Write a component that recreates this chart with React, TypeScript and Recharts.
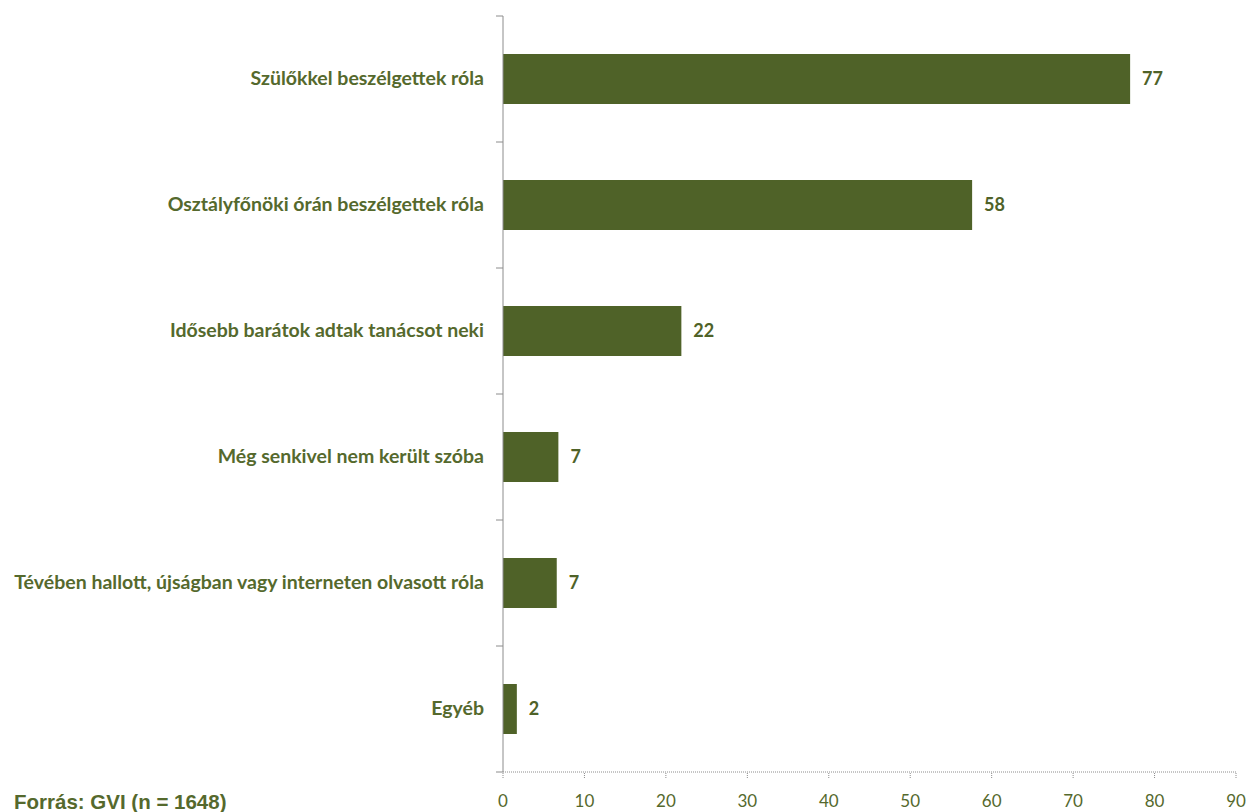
import React from 'react';
import { BarChart, Bar, XAxis, YAxis, LabelList } from 'recharts';

const categories = [
  'Szülőkkel beszélgettek róla',
  'Osztályfőnöki órán beszélgettek róla',
  'Idősebb barátok adtak tanácsot neki',
  'Még senkivel nem került szóba',
  'Tévében hallott, újságban vagy interneten olvasott róla',
  'Egyéb',
];
const values = [77.0, 57.6, 21.9, 6.8, 6.6, 1.7];
const labels = [77, 58, 22, 7, 7, 2];
const xTicks = [0, 10, 20, 30, 40, 50, 60, 70, 80, 90];
const sourceText = 'Forrás: GVI (n = 1648)';

const data = categories.map((c, i) => ({ name: c, value: values[i], label: labels[i] }));

const W = 1250;
const H = 812;
const M = { top: 16, right: 14, left: 0, bottom: 0 };
const X_AXIS_H = 40;
const Y_AXIS_W = 503;
const TICK_SIZE = 7;
const TICK_MARGIN = 12;
const GREEN = '#4f6228';
const TEXT_GREEN = '#55692d';
const AXIS_GRAY = '#8c8c8c';
const band = (H - M.top - M.bottom - X_AXIS_H) / categories.length;

const YTick = (props: any) => {
  const { x, y, payload, index } = props;
  const ax = x + TICK_MARGIN;
  return (
    <g>
      <line x1={ax} x2={ax + TICK_SIZE} y1={y - band / 2} y2={y - band / 2} stroke={AXIS_GRAY} strokeWidth={1} />
      {index === categories.length - 1 && (
        <line x1={ax} x2={ax + TICK_SIZE} y1={y + band / 2} y2={y + band / 2} stroke={AXIS_GRAY} strokeWidth={1} />
      )}
      <text x={x} y={y} dy={6} textAnchor="end" fill={TEXT_GREEN} fontFamily="Lato" fontWeight={700} fontSize={19.5}>
        {payload.value}
      </text>
    </g>
  );
};

export default function App() {
  return (
    <div style={{ position: 'absolute', left: 0, top: 0, width: W, height: H, background: '#fff', overflow: 'hidden' }}>
      <BarChart width={W} height={H} data={data} layout="vertical" margin={M}>
        <XAxis
          type="number"
          domain={[0, 90]}
          ticks={xTicks}
          interval={0}
          height={X_AXIS_H}
          stroke={AXIS_GRAY}
          axisLine={{ stroke: AXIS_GRAY, strokeDasharray: '1 1' }}
          tickLine={{ stroke: AXIS_GRAY, strokeDasharray: '1 1' }}
          tickSize={6}
          tickMargin={17}
          tick={{ fill: TEXT_GREEN, fontFamily: 'Lato', fontSize: 17 }}
        />
        <YAxis
          type="category"
          dataKey="name"
          width={Y_AXIS_W}
          interval={0}
          tickSize={TICK_SIZE}
          tickMargin={TICK_MARGIN}
          tickLine={false}
          axisLine={{ stroke: AXIS_GRAY }}
          tick={<YTick />}
        />
        <Bar dataKey="value" fill={GREEN} barSize={50} isAnimationActive={false}>
          <LabelList
            dataKey="label"
            position="right"
            offset={12}
            fill={GREEN}
            fontFamily="Lato"
            fontWeight={700}
            fontSize={18}
          />
        </Bar>
      </BarChart>
      <div
        style={{
          position: 'absolute',
          left: 14,
          top: 792,
          fontFamily: '"Liberation Sans", Arial, sans-serif',
          fontWeight: 700,
          fontSize: 20.5,
          color: TEXT_GREEN,
          lineHeight: '20.5px',
          whiteSpace: 'nowrap',
        }}
      >
        {sourceText}
      </div>
    </div>
  );
}
